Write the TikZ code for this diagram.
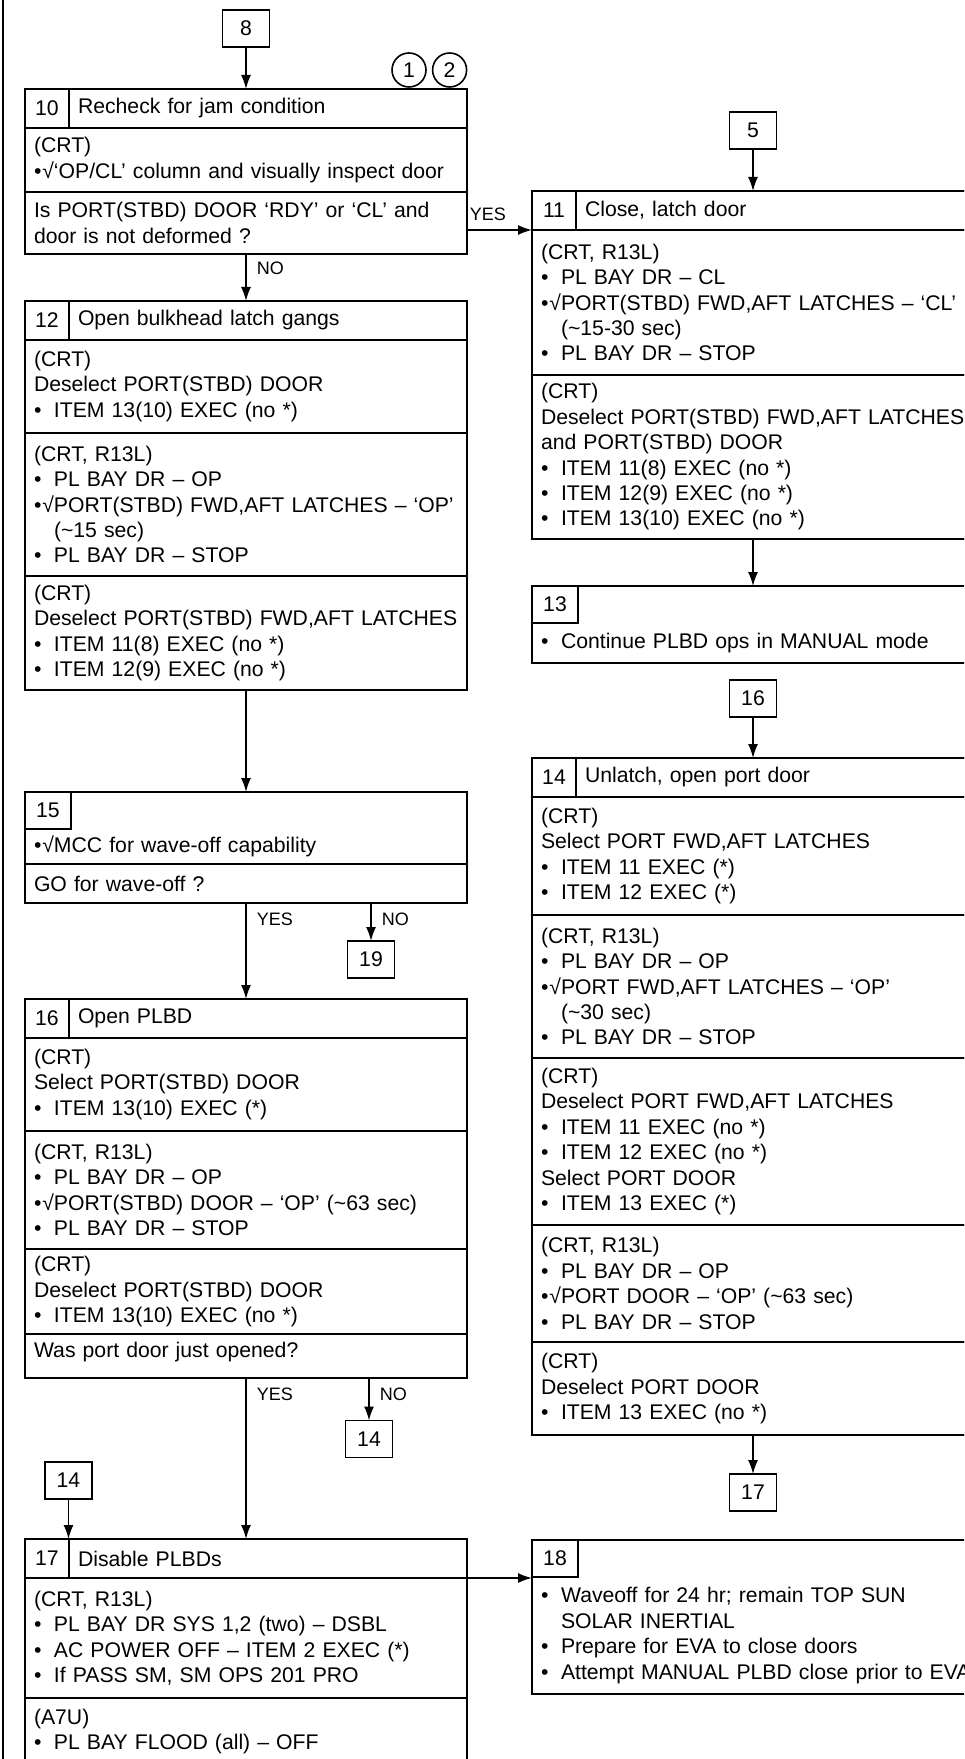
\documentclass[tikz,border=0pt]{standalone}
\usepackage{fontspec}
\setmainfont{Liberation Sans}
\usetikzlibrary{positioning,arrows.meta}

\newcommand{\bul}{\makebox[10pt][l]{•}}
\newcommand{\chk}{\makebox[10pt][l]{•\hfill√}}
\newcommand{\cont}{\hspace*{10pt}}
\newcommand{\apx}{\textasciitilde}

\begin{document}
\begin{tikzpicture}[x=0.5pt,y=-0.5pt,>={Latex[length=7pt,width=5pt]},
  font=\fontsize{10.6pt}{12.7pt}\selectfont,
  hd/.style={draw,line width=1pt,text width=212pt,inner xsep=4.5pt,inner ysep=0pt,
    minimum height=19.5pt,align=left,anchor=north west,outer sep=0pt},
  sec/.style={draw,line width=1pt,text width=212pt,inner xsep=4.5pt,inner ysep=0pt,
    align=left,outer sep=0pt},
  num/.style={minimum width=22pt,minimum height=19.5pt,inner sep=0pt,outer sep=0pt,anchor=north west},
  nbox/.style={draw,line width=0.8pt,minimum width=23pt,minimum height=18.5pt,inner sep=0pt,
    outer sep=0pt,anchor=north west},
  conn/.style={draw,line width=0.8pt,minimum width=23.5pt,minimum height=18.5pt,inner sep=0pt,outer sep=0pt},
  ring/.style={draw,circle,line width=0.8pt,minimum size=17pt,inner sep=0pt},
  boxline/.style={line width=1.4pt},
  arr/.style={->,line width=0.8pt},
  lbl/.style={font=\fontsize{9pt}{10pt}\selectfont,inner sep=1pt}]
  \useasboundingbox (0,0) rectangle (964,1759);
  \clip (0,0) rectangle (964,1759);
  \draw[line width=1pt] (3,0) -- (3,1759);

  % 10
  \node[hd] (t10) at (25,89) {\hspace*{22pt}Recheck for jam condition};
  \node[num] (n10) at (t10.north west) {10};
  \draw[line width=1pt] (n10.north east) -- (n10.south east);
  \node[sec,minimum height=32pt,below=0pt of t10] (s10a) {(CRT)\\ \chk‘OP/CL’ column and visually inspect door};
  \node[sec,minimum height=31pt,below=0pt of s10a] (s10b) {Is PORT(STBD) DOOR ‘RDY’ or ‘CL’ and\\ door is not deformed ?};
  \draw[boxline] (t10.north west) rectangle (s10b.south east);
  \node[conn,above=21pt of t10] (c8) {8};
  \node[ring] (r1) at (409,70) {1};
  \node[ring,right=2.5pt of r1] (r2) {2};

  % 12
  \node[hd] (t12) at (25,301) {\hspace*{22pt}Open bulkhead latch gangs};
  \node[num] (n12) at (t12.north west) {12};
  \draw[line width=1pt] (n12.north east) -- (n12.south east);
  \node[sec,minimum height=46.5pt,below=0pt of t12] (s12a) {(CRT)\\ Deselect PORT(STBD) DOOR\\ \bul ITEM 13(10) EXEC (no *)};
  \node[sec,minimum height=71.5pt,below=0pt of s12a] (s12b) {(CRT, R13L)\\ \bul PL BAY DR – OP\\ \chk PORT(STBD) FWD,AFT LATCHES – ‘OP’\\ \cont(\apx15 sec)\\ \bul PL BAY DR – STOP};
  \node[sec,minimum height=57pt,below=0pt of s12b] (s12c) {(CRT)\\ Deselect PORT(STBD) FWD,AFT LATCHES\\ \bul ITEM 11(8) EXEC (no *)\\ \bul ITEM 12(9) EXEC (no *)};
  \draw[boxline] (t12.north west) rectangle (s12c.south east);

  % 15
  \node[nbox] (n15) at (25,792) {15};
  \node[sec,draw=none,minimum height=17.5pt,anchor=north west] (b15) at (n15.south west) {\chk MCC for wave-off capability};
  \node[sec,minimum height=19.5pt,below=0pt of b15] (s15) {GO for wave-off ?};
  \draw[boxline] (n15.north west) rectangle (s15.south east);
  \node[conn] (c19) at (371,959.5) {19};

  % 16
  \node[hd] (t16) at (25,999) {\hspace*{22pt}Open PLBD};
  \node[num] (n16) at (t16.north west) {16};
  \draw[line width=1pt] (n16.north east) -- (n16.south east);
  \node[sec,minimum height=46.5pt,below=0pt of t16] (s16a) {(CRT)\\ Select PORT(STBD) DOOR\\ \bul ITEM 13(10) EXEC (*)};
  \node[sec,minimum height=59pt,below=0pt of s16a] (s16b) {(CRT, R13L)\\ \bul PL BAY DR – OP\\ \chk PORT(STBD) DOOR – ‘OP’ (\apx63 sec)\\ \bul PL BAY DR – STOP};
  \node[sec,minimum height=42.5pt,below=0pt of s16b] (s16c) {(CRT)\\ Deselect PORT(STBD) DOOR\\ \bul ITEM 13(10) EXEC (no *)};
  \node[sec,minimum height=22pt,text depth=6pt,below=0pt of s16c] (s16d) {Was port door just opened?};
  \draw[boxline] (t16.north west) rectangle (s16d.south east);
  \node[conn] (c14a) at (369,1439) {14};
  \node[conn] (c14b) at (68.5,1480.5) {14};

  % 17
  \node[hd] (t17) at (25,1539) {\hspace*{22pt}Disable PLBDs};
  \node[num] (n17) at (t17.north west) {17};
  \draw[line width=1pt] (n17.north east) -- (n17.south east);
  \node[sec,minimum height=60pt,below=0pt of t17] (s17a) {(CRT, R13L)\\ \bul PL BAY DR SYS 1,2 (two) – DSBL\\ \bul AC POWER OFF – ITEM 2 EXEC (*)\\ \bul If PASS SM, SM OPS 201 PRO};
  \node[sec,minimum height=33.5pt,below=0pt of s17a] (s17b) {(A7U)\\ \bul PL BAY FLOOD (all) – OFF};
  \draw[boxline] (t17.north west) rectangle (s17b.south east);

  % right column
  \node[hd] (t11) at (532,191) {\hspace*{22pt}Close, latch door};
  \node[num] (n11) at (t11.north west) {11};
  \draw[line width=1pt] (n11.north east) -- (n11.south east);
  \node[sec,minimum height=72.5pt,below=0pt of t11] (s11a) {(CRT, R13L)\\ \bul PL BAY DR – CL\\ \chk PORT(STBD) FWD,AFT LATCHES – ‘CL’\\ \cont(\apx15-30 sec)\\ \bul PL BAY DR – STOP};
  \node[sec,minimum height=82pt,below=0pt of s11a] (s11b) {(CRT)\\ Deselect PORT(STBD) FWD,AFT LATCHES\\ and PORT(STBD) DOOR\\ \bul ITEM 11(8) EXEC (no *)\\ \bul ITEM 12(9) EXEC (no *)\\ \bul ITEM 13(10) EXEC (no *)};
  \draw[boxline] (t11.north west) rectangle (s11b.south east);
  \node[conn,above=21pt of t11] (c5) {5};

  \node[nbox] (n13) at (532,586) {13};
  \node[sec,draw=none,minimum height=20pt,anchor=north west] (b13) at (n13.south west) {\bul Continue PLBD ops in MANUAL mode};
  \draw[boxline] (n13.north west) rectangle (b13.south east);

  \node[hd] (t14) at (532,758) {\hspace*{22pt}Unlatch, open port door};
  \node[num] (n14) at (t14.north west) {14};
  \draw[line width=1pt] (n14.north east) -- (n14.south east);
  \node[sec,minimum height=59pt,below=0pt of t14] (s14a) {(CRT)\\ Select PORT FWD,AFT LATCHES\\ \bul ITEM 11 EXEC (*)\\ \bul ITEM 12 EXEC (*)};
  \node[sec,minimum height=71.5pt,below=0pt of s14a] (s14b) {(CRT, R13L)\\ \bul PL BAY DR – OP\\ \chk PORT FWD,AFT LATCHES – ‘OP’\\ \cont(\apx30 sec)\\ \bul PL BAY DR – STOP};
  \node[sec,minimum height=83.5pt,below=0pt of s14b] (s14c) {(CRT)\\ Deselect PORT FWD,AFT LATCHES\\ \bul ITEM 11 EXEC (no *)\\ \bul ITEM 12 EXEC (no *)\\ Select PORT DOOR\\ \bul ITEM 13 EXEC (*)};
  \node[sec,minimum height=58.5pt,below=0pt of s14c] (s14d) {(CRT, R13L)\\ \bul PL BAY DR – OP\\ \chk PORT DOOR – ‘OP’ (\apx63 sec)\\ \bul PL BAY DR – STOP};
  \node[sec,minimum height=46.5pt,below=0pt of s14d] (s14e) {(CRT)\\ Deselect PORT DOOR\\ \bul ITEM 13 EXEC (no *)};
  \draw[boxline] (t14.north west) rectangle (s14e.south east);
  \node[conn,above=20.5pt of t14] (c16) {16};
  \node[conn,below=19.5pt of s14e] (c17) {17};

  \node[nbox] (n18) at (532,1540) {18};
  \node[sec,draw=none,text width=240pt,minimum height=58.5pt,anchor=north west] (b18) at (n18.south west) {\bul Waveoff for 24 hr; remain TOP SUN\\ \cont SOLAR INERTIAL\\ \bul Prepare for EVA to close doors\\ \bul Attempt MANUAL PLBD close prior to EVA};
  \draw[boxline] (n18.north west) rectangle (b18.south east);

  % connectors
  \draw[arr] (c8.south) -- (c8.south |- t10.north);
  \draw[arr] (s10b.east |- t11.south) -- (t11.south west) node[lbl,pos=0,anchor=south west,yshift=3.5pt] {YES};
  \draw[arr] (s10b.south) -- (t12.north) node[lbl,pos=0,anchor=north west,xshift=4pt,yshift=-2.5pt] {NO};
  \draw[arr] (s12c.south) -- (s12c.south |- n15.north);
  \draw[arr] (s15.south) -- (t16.north) node[lbl,pos=0,anchor=north west,xshift=4pt,yshift=-3.5pt] {YES};
  \draw[arr] (c19.north |- s15.south) -- (c19.north) node[lbl,pos=0,anchor=north west,xshift=4pt,yshift=-3.5pt] {NO};
  \draw[arr] (s16d.south) -- (t17.north) node[lbl,pos=0,anchor=north west,xshift=4pt,yshift=-3.5pt] {YES};
  \draw[arr] (c14a.north |- s16d.south) -- (c14a.north) node[lbl,pos=0,anchor=north west,xshift=4pt,yshift=-3.5pt] {NO};
  \draw[arr] (c14b.south) -- (c14b.south |- t17.north);
  \draw[arr] (t17.south east) -- (t17.south east -| n18.west);
  \draw[arr] (c5.south) -- (t11.north);
  \draw[arr] (s11b.south) -- (s11b.south |- n13.north);
  \draw[arr] (c16.south) -- (t14.north);
  \draw[arr] (s14e.south) -- (c17.north);
\end{tikzpicture}
\end{document}
